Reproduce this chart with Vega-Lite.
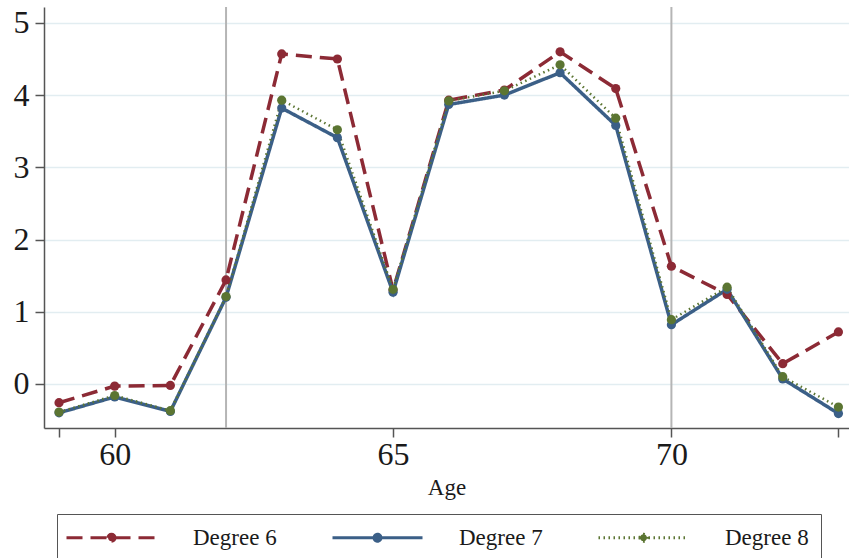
{
  "$schema": "https://vega.github.io/schema/vega-lite/v6.json",
  "width": 805,
  "height": 421,
  "autosize": {"type": "none"},
  "padding": {"left": 44, "top": 7, "right": 0, "bottom": 130},
  "background": "white",
  "config": {"view": {"stroke": null}, "font": "Liberation Serif"},
  "datasets": {
    "fits": [
      {"age": 59, "series": "Degree 6", "value": -0.26},
      {"age": 60, "series": "Degree 6", "value": -0.03},
      {"age": 61, "series": "Degree 6", "value": -0.02},
      {"age": 62, "series": "Degree 6", "value": 1.44},
      {"age": 63, "series": "Degree 6", "value": 4.57},
      {"age": 64, "series": "Degree 6", "value": 4.50},
      {"age": 65, "series": "Degree 6", "value": 1.30},
      {"age": 66, "series": "Degree 6", "value": 3.93},
      {"age": 67, "series": "Degree 6", "value": 4.07},
      {"age": 68, "series": "Degree 6", "value": 4.60},
      {"age": 69, "series": "Degree 6", "value": 4.09},
      {"age": 70, "series": "Degree 6", "value": 1.63},
      {"age": 71, "series": "Degree 6", "value": 1.24},
      {"age": 72, "series": "Degree 6", "value": 0.28},
      {"age": 73, "series": "Degree 6", "value": 0.72},
      {"age": 59, "series": "Degree 7", "value": -0.40},
      {"age": 60, "series": "Degree 7", "value": -0.18},
      {"age": 61, "series": "Degree 7", "value": -0.38},
      {"age": 62, "series": "Degree 7", "value": 1.20},
      {"age": 63, "series": "Degree 7", "value": 3.82},
      {"age": 64, "series": "Degree 7", "value": 3.41},
      {"age": 65, "series": "Degree 7", "value": 1.27},
      {"age": 66, "series": "Degree 7", "value": 3.87},
      {"age": 67, "series": "Degree 7", "value": 4.00},
      {"age": 68, "series": "Degree 7", "value": 4.31},
      {"age": 69, "series": "Degree 7", "value": 3.58},
      {"age": 70, "series": "Degree 7", "value": 0.82},
      {"age": 71, "series": "Degree 7", "value": 1.31},
      {"age": 72, "series": "Degree 7", "value": 0.07},
      {"age": 73, "series": "Degree 7", "value": -0.41},
      {"age": 59, "series": "Degree 8", "value": -0.39},
      {"age": 60, "series": "Degree 8", "value": -0.16},
      {"age": 61, "series": "Degree 8", "value": -0.37},
      {"age": 62, "series": "Degree 8", "value": 1.21},
      {"age": 63, "series": "Degree 8", "value": 3.93},
      {"age": 64, "series": "Degree 8", "value": 3.52},
      {"age": 65, "series": "Degree 8", "value": 1.31},
      {"age": 66, "series": "Degree 8", "value": 3.92},
      {"age": 67, "series": "Degree 8", "value": 4.06},
      {"age": 68, "series": "Degree 8", "value": 4.42},
      {"age": 69, "series": "Degree 8", "value": 3.68},
      {"age": 70, "series": "Degree 8", "value": 0.89},
      {"age": 71, "series": "Degree 8", "value": 1.34},
      {"age": 72, "series": "Degree 8", "value": 0.10},
      {"age": 73, "series": "Degree 8", "value": -0.32}
    ],
    "cutoffs": [{"age": 62}, {"age": 70}]
  },
  "encoding": {
    "x": {
      "field": "age",
      "type": "quantitative",
      "scale": {"domain": [58.73, 73.19], "nice": false, "zero": false},
      "axis": {
        "values": [59, 60, 65, 70, 73],
        "labelExpr": "datum.value == 59 || datum.value == 73 ? '' : datum.label",
        "grid": false,
        "domainColor": "#555555",
        "domainWidth": 1.5,
        "tickColor": "#555555",
        "tickWidth": 1.5,
        "tickSize": 9,
        "labelFont": "Liberation Serif",
        "labelFontSize": 32,
        "labelColor": "#1a1a1a",
        "labelPadding": 2,
        "labelFlush": false,
        "labelOverlap": false,
        "title": "Age",
        "titleFont": "Liberation Serif",
        "titleFontSize": 23,
        "titleFontWeight": "normal",
        "titleColor": "#1a1a1a",
        "titlePadding": 6
      }
    }
  },
  "layer": [
    {
      "data": {"name": "cutoffs"},
      "mark": {"type": "rule", "color": "#b5b5b5", "strokeWidth": 2}
    },
    {
      "data": {"name": "fits"},
      "mark": {"type": "line", "strokeCap": "butt", "strokeJoin": "miter"},
      "encoding": {
        "y": {
          "field": "value",
          "type": "quantitative",
          "scale": {"domain": [-0.61, 5.22], "nice": false, "zero": false},
          "axis": {
            "values": [0, 1, 2, 3, 4, 5],
            "grid": true,
            "gridColor": "#e2edf1",
            "gridWidth": 1.5,
            "domainColor": "#555555",
            "domainWidth": 1.5,
            "tickColor": "#555555",
            "tickWidth": 1.5,
            "tickSize": 9,
            "labelFont": "Liberation Serif",
            "labelFontSize": 32,
            "labelColor": "#1a1a1a",
            "labelPadding": 6,
            "labelFlush": false,
            "title": null
          }
        },
        "color": {
          "field": "series",
          "type": "nominal",
          "scale": {"domain": ["Degree 6", "Degree 7", "Degree 8"], "range": ["#8c2a35", "#3b5f87", "#5b7532"]},
          "legend": {
            "title": null,
            "orient": "none",
            "legendX": 13,
            "legendY": 507,
            "direction": "horizontal",
            "columns": 3,
            "symbolType": "M-4.5,0H4.5M-0.35,0A0.35,0.35,0,1,1,0.35,0A0.35,0.35,0,1,1,-0.35,0",
            "symbolSize": 400,
            "symbolStrokeWidth": 3,
            "symbolOffset": 31,
            "labelOffset": 70,
            "labelFont": "Liberation Serif",
            "labelFontSize": 23,
            "labelColor": "#1a1a1a",
            "columnPadding": 49,
            "padding": 12,
            "strokeColor": "#555555",
            "encode": {"symbols": {"update": {"fill": {"scale": "color", "field": "value"}, "opacity": {"value": 1}}}}
          }
        },
        "strokeDash": {
          "field": "series",
          "type": "nominal",
          "scale": {"domain": ["Degree 6", "Degree 7", "Degree 8"], "range": [[16, 8], [1, 0], [1.5, 3.5]]},
          "legend": {
            "title": null,
            "orient": "none",
            "legendX": 13,
            "legendY": 507,
            "direction": "horizontal",
            "columns": 3,
            "symbolType": "M-4.5,0H4.5M-0.35,0A0.35,0.35,0,1,1,0.35,0A0.35,0.35,0,1,1,-0.35,0",
            "symbolSize": 400,
            "symbolStrokeWidth": 3,
            "symbolOffset": 31,
            "labelOffset": 70,
            "labelFont": "Liberation Serif",
            "labelFontSize": 23,
            "labelColor": "#1a1a1a",
            "columnPadding": 49,
            "padding": 12,
            "strokeColor": "#555555",
            "encode": {"symbols": {"update": {"fill": {"scale": "color", "field": "value"}, "opacity": {"value": 1}}}}
          }
        },
        "strokeWidth": {"condition": {"test": "datum.series === 'Degree 8'", "value": 2.5}, "value": 3.5}
      }
    },
    {
      "data": {"name": "fits"},
      "mark": {"type": "point", "filled": true, "opacity": 1, "size": 85},
      "encoding": {
        "y": {
          "field": "value",
          "type": "quantitative",
          "scale": {"domain": [-0.61, 5.22], "nice": false, "zero": false},
          "axis": {
            "values": [0, 1, 2, 3, 4, 5],
            "grid": true,
            "gridColor": "#e2edf1",
            "gridWidth": 1.5,
            "domainColor": "#555555",
            "domainWidth": 1.5,
            "tickColor": "#555555",
            "tickWidth": 1.5,
            "tickSize": 9,
            "labelFont": "Liberation Serif",
            "labelFontSize": 32,
            "labelColor": "#1a1a1a",
            "labelPadding": 6,
            "labelFlush": false,
            "title": null
          }
        },
        "color": {
          "field": "series",
          "type": "nominal",
          "scale": {"domain": ["Degree 6", "Degree 7", "Degree 8"], "range": ["#8c2a35", "#3b5f87", "#5b7532"]},
          "legend": null
        }
      }
    }
  ]
}
